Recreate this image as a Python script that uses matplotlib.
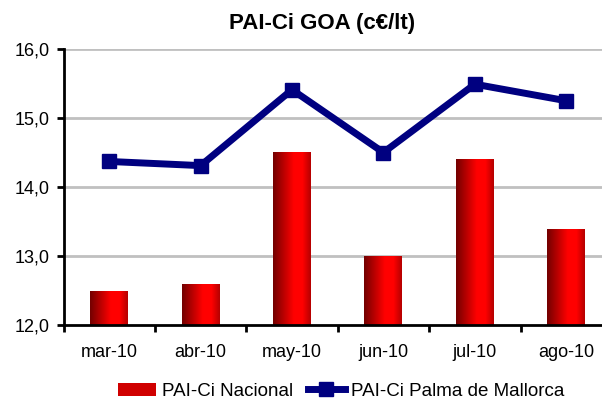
import numpy as np
import matplotlib
matplotlib.use('Agg')
import matplotlib.pyplot as plt
from matplotlib.colors import LinearSegmentedColormap
from matplotlib.patches import Rectangle
from matplotlib.lines import Line2D

months = ['mar-10', 'abr-10', 'may-10', 'jun-10', 'jul-10', 'ago-10']
nacional = [12.48, 12.59, 14.50, 13.00, 14.40, 13.38]
palma = [14.37, 14.31, 15.41, 14.50, 15.49, 15.25]
y_ticks = [12.0, 13.0, 14.0, 15.0, 16.0]

plt.rcParams['font.family'] = ['Liberation Sans', 'DejaVu Sans']

fig = plt.figure(figsize=(6.02, 4.0), dpi=100)
ax = fig.add_axes([0.1055, 0.1875, 0.911, 0.69])

x = np.arange(len(months))
bar_w = 0.415

# red bars with a horizontal gradient (dark left -> bright red -> slightly dark right)
red_cmap = LinearSegmentedColormap.from_list(
    'redgrad', [(0.0, '#720000'), (0.55, '#ff0000'), (0.78, '#ff0000'), (1.0, '#b40000')])
gradient = np.linspace(0, 1, 256).reshape(1, -1)

bars = ax.bar(x, [v - 12.0 for v in nacional], bottom=12.0, width=bar_w,
              color='none', edgecolor='none', zorder=2)
for b in bars:
    x0, y0 = b.get_x(), b.get_y()
    ax.imshow(gradient, cmap=red_cmap, aspect='auto', zorder=2,
              extent=[x0, x0 + b.get_width(), y0, y0 + b.get_height()])

ax.plot(x, palma, color='#000080', linewidth=5, marker='s', markersize=10,
        zorder=3)

ax.set_xlim(-0.5, len(months) - 0.5)
ax.set_ylim(12.0, 16.0)

# grid
ax.set_yticks(y_ticks)
ax.set_yticklabels([f'{v:.1f}'.replace('.', ',') for v in y_ticks], fontsize=13)
for v in y_ticks[1:]:
    ax.axhline(v, color='#c0c0c0', linewidth=2, zorder=1)

# x ticks at boundaries, labels at centers
ax.set_xticks(np.arange(-0.5, len(months), 1.0))
ax.set_xticklabels([])
ax.set_xticks(x, minor=True)
ax.set_xticklabels(months, minor=True, fontsize=13)
ax.tick_params(axis='x', which='major', direction='out', length=5, width=2)
ax.tick_params(axis='x', which='minor', length=0, pad=14)
ax.tick_params(axis='y', direction='out', length=5, width=2, pad=5)

for s in ['top', 'right']:
    ax.spines[s].set_visible(False)
for s in ['left', 'bottom']:
    ax.spines[s].set_linewidth(2)
    ax.spines[s].set_zorder(4)

fig.text(0.535, 0.94, 'PAI-Ci GOA (c€/lt)', ha='center', va='center',
         fontsize=16, fontweight='bold')

handles = [Rectangle((0, 0), 1, 1, facecolor='#d00000', edgecolor='none'),
           Line2D([0], [0], color='#000080', linewidth=5, marker='s', markersize=10)]
fig.legend(handles, ['PAI-Ci Nacional', 'PAI-Ci Palma de Mallorca'],
           loc='center', bbox_to_anchor=(0.567, 0.022), ncol=2, frameon=False,
           fontsize=13.5, handlelength=2.0, handletextpad=0.3, columnspacing=0.8)

fig.savefig('out.png', dpi=100)
